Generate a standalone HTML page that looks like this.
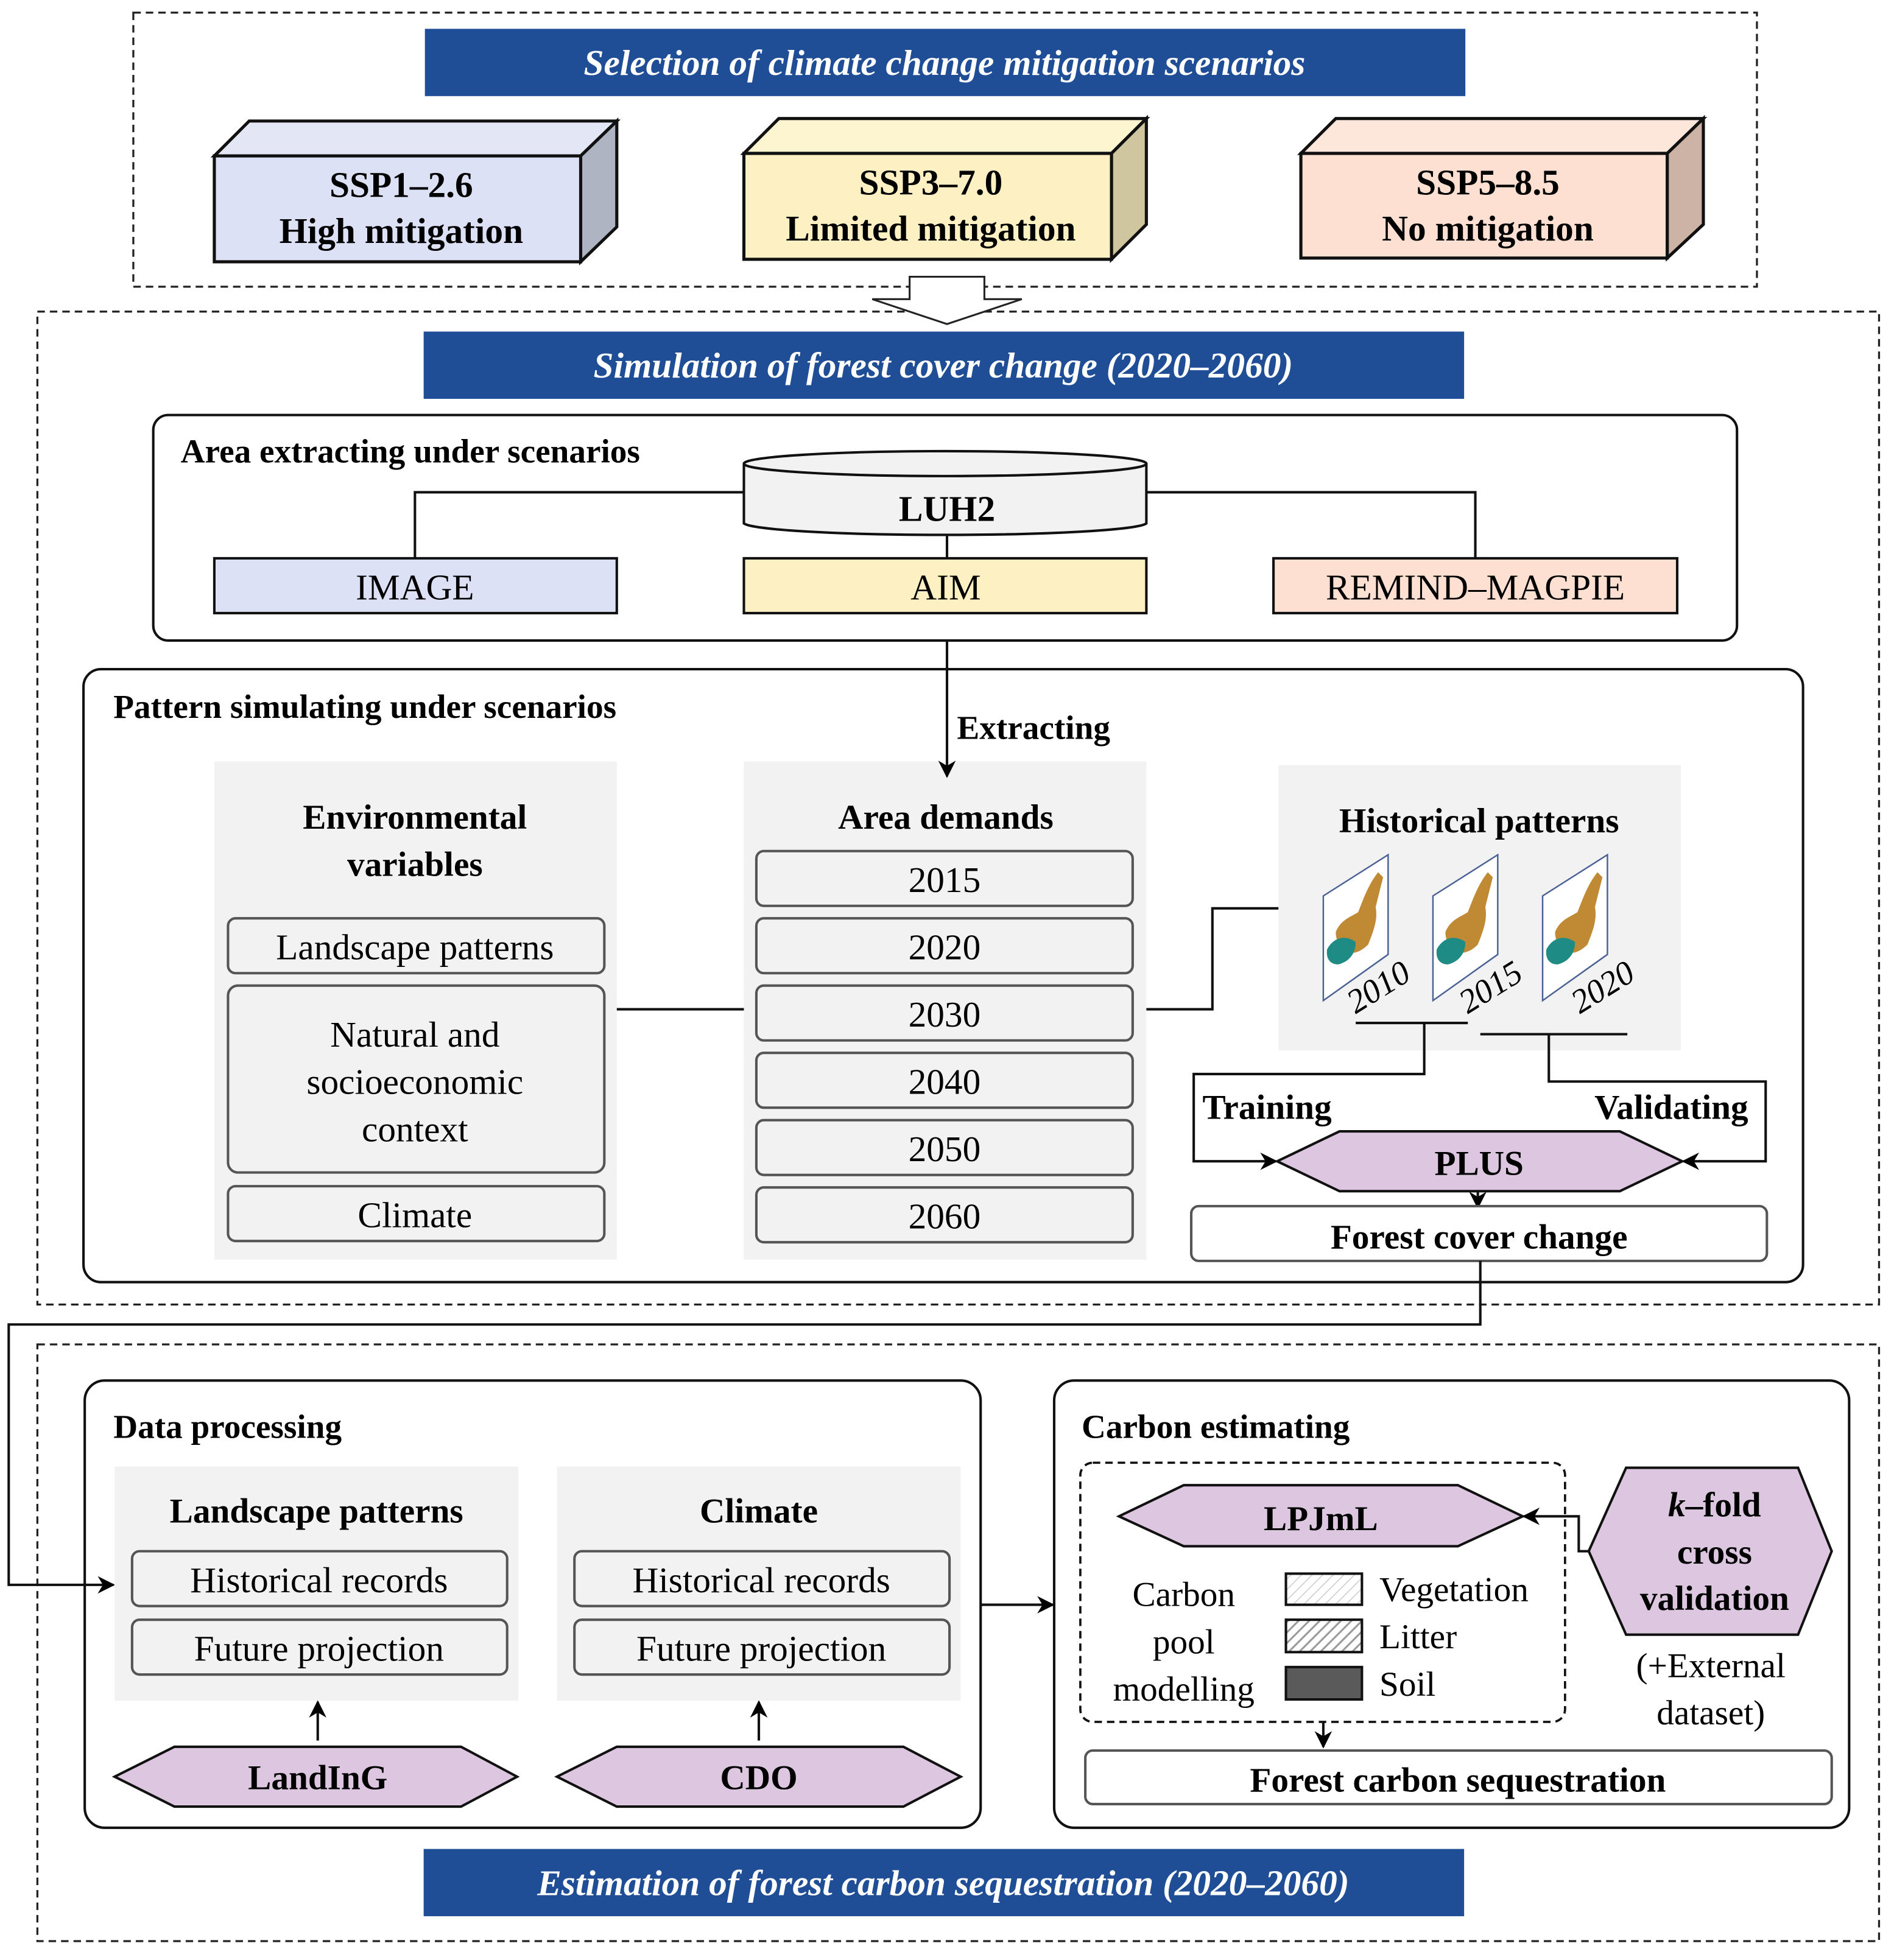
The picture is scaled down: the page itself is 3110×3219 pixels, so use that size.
<!DOCTYPE html>
<html><head><meta charset="utf-8"><style>html,body{margin:0;padding:0;background:#fff}svg{display:block;font-family:"Liberation Serif","Times New Roman",serif}</style></head><body>
<svg xmlns="http://www.w3.org/2000/svg" width="3110" height="3219" viewBox="0 0 1520 1573">
<defs>
<marker id="ar" viewBox="0 0 10 10" refX="9" refY="5" markerWidth="14" markerHeight="14" markerUnits="userSpaceOnUse" orient="auto"><path d="M0,0 L10,5 L0,10 L3,5 z" fill="#000"/></marker>
<pattern id="hv" width="6" height="6" patternUnits="userSpaceOnUse" patternTransform="rotate(45)"><rect width="6" height="6" fill="#fff"/><line x1="0" y1="0" x2="0" y2="6" stroke="#ccc" stroke-width="1.5"/></pattern>
<pattern id="hl" width="6" height="6" patternUnits="userSpaceOnUse" patternTransform="rotate(45)"><rect width="6" height="6" fill="#fff"/><line x1="0" y1="0" x2="0" y2="6" stroke="#999" stroke-width="3"/></pattern>
<g id="map">
<path d="M0,33 L52,0 L52,80 L0,117 z" fill="#fff" stroke="#4a6196" stroke-width="1.2"/>
<path d="M10,62 C14,52 22,50 28,46 C32,36 36,24 44,14 L48,18 C46,26 44,34 42,42 C44,52 40,62 36,72 C30,78 24,80 18,78 C14,74 10,70 10,62 z" fill="#c08a35"/>
<path d="M3,76 C8,66 18,64 26,70 C26,80 20,86 12,88 C6,88 2,84 3,76 z" fill="#1e8b84"/>
</g>
</defs>
<rect width="1520" height="1573" fill="#fff"/>
<g fill="none" stroke="#222" stroke-width="1.6" stroke-dasharray="6,4">
<rect x="107" y="10" width="1303" height="220"/>
<rect x="30" y="250" width="1478" height="797"/>
<rect x="30" y="1079" width="1478" height="479"/>
</g>
<g fill="#1f4e96"><rect x="341" y="23" width="835" height="54"/><rect x="340" y="266" width="835" height="54"/><rect x="340" y="1484" width="835" height="54"/></g>
<g fill="#fff" font-weight="bold" font-style="italic" font-size="29" text-anchor="middle">
<text x="758" y="60">Selection of climate change mitigation scenarios</text>
<text x="757" y="303">Simulation of forest cover change (2020–2060)</text>
<text x="757" y="1521">Estimation of forest carbon sequestration (2020–2060)</text>
</g>
<g stroke="#111" stroke-width="2.5">
<path d="M172,125 L200,97 L495,97 L466,125 z" fill="#e2e6f5"/><path d="M466,125 L495,97 L495,182 L466,210 z" fill="#aeb4c2"/><rect x="172" y="125" width="294" height="85" fill="#dce1f5"/>
<path d="M597,123 L625,95 L920,95 L892,123 z" fill="#fdf4d0"/><path d="M892,123 L920,95 L920,180 L892,208 z" fill="#cfc6a0"/><rect x="597" y="123" width="295" height="85" fill="#fdf1c4"/>
<path d="M1044,123 L1072,95 L1367,95 L1338,123 z" fill="#fde6da"/><path d="M1338,123 L1367,95 L1367,180 L1338,207 z" fill="#cdb2a6"/><rect x="1044" y="123" width="294" height="84" fill="#fde0d2"/>
</g>
<g font-weight="bold" font-size="29" text-anchor="middle">
<text x="322" y="158">SSP1–2.6</text><text x="322" y="195">High mitigation</text>
<text x="747" y="156">SSP3–7.0</text><text x="747" y="193">Limited mitigation</text>
<text x="1194" y="156">SSP5–8.5</text><text x="1194" y="193">No mitigation</text>
</g>
<path d="M730,222 L790,222 L790,240 L820,240 L760,260 L700,240 L730,240 z" fill="#fff" stroke="#222" stroke-width="1.5"/>
<rect x="123" y="333" width="1271" height="181" rx="12" fill="none" stroke="#111" stroke-width="2"/>
<text x="145" y="371" font-weight="bold" font-size="27">Area extracting under scenarios</text>
<g stroke="#111" stroke-width="2" fill="none">
<path d="M597,395 L333,395 L333,448"/><path d="M920,395 L1184,395 L1184,448"/><path d="M760,428 L760,448"/>
</g>
<path d="M597,372 L597,420 A162,10 0 0 0 920,420 L920,372" fill="#f2f2f2" stroke="#111" stroke-width="2"/>
<ellipse cx="758.5" cy="372" rx="161.5" ry="10" fill="#f2f2f2" stroke="#111" stroke-width="2"/>
<text x="760" y="418" font-weight="bold" font-size="29" text-anchor="middle">LUH2</text>
<rect x="172" y="448" width="323" height="44" fill="#dce1f5" stroke="#111" stroke-width="2"/>
<rect x="597" y="448" width="323" height="44" fill="#fdf1c4" stroke="#111" stroke-width="2"/>
<rect x="1022" y="448" width="324" height="44" fill="#fde0d2" stroke="#111" stroke-width="2"/>
<g font-size="29" text-anchor="middle"><text x="333" y="481">IMAGE</text><text x="759" y="481">AIM</text><text x="1184" y="481">REMIND–MAGPIE</text></g>
<rect x="67" y="537" width="1380" height="492" rx="14" fill="none" stroke="#111" stroke-width="2"/>
<text x="91" y="576" font-weight="bold" font-size="27">Pattern simulating under scenarios</text>
<rect x="172" y="611" width="323" height="400" fill="#f2f2f2"/>
<rect x="597" y="611" width="323" height="400" fill="#f2f2f2"/>
<rect x="1026" y="614" width="323" height="229" fill="#f2f2f2"/>
<line x1="760" y1="514" x2="760" y2="623" stroke="#111" stroke-width="2" marker-end="url(#ar)"/>
<text x="768" y="593" font-weight="bold" font-size="27">Extracting</text>
<g font-weight="bold" font-size="28" text-anchor="middle">
<text x="333" y="665">Environmental</text><text x="333" y="703">variables</text>
<text x="759" y="665">Area demands</text><text x="1187" y="668">Historical patterns</text>
</g>
<g fill="#f2f2f2" stroke="#555" stroke-width="2">
<rect x="183" y="737" width="302" height="44" rx="6"/><rect x="183" y="791" width="302" height="150" rx="8"/><rect x="183" y="952" width="302" height="44" rx="6"/>
<rect x="607" y="683" width="302" height="44" rx="6"/><rect x="607" y="737" width="302" height="44" rx="6"/><rect x="607" y="791" width="302" height="44" rx="6"/>
<rect x="607" y="845" width="302" height="44" rx="6"/><rect x="607" y="899" width="302" height="44" rx="6"/><rect x="607" y="953" width="302" height="44" rx="6"/>
</g>
<g font-size="29" text-anchor="middle">
<text x="333" y="770">Landscape patterns</text><text x="333" y="840">Natural and</text><text x="333" y="878">socioeconomic</text><text x="333" y="916">context</text><text x="333" y="985">Climate</text>
<text x="758" y="716">2015</text><text x="758" y="770">2020</text><text x="758" y="824">2030</text><text x="758" y="878">2040</text><text x="758" y="932">2050</text><text x="758" y="986">2060</text>
</g>
<g stroke="#111" stroke-width="2" fill="none">
<path d="M495,810 L597,810"/><path d="M920,810 L973,810 L973,729 L1026,729"/>
<path d="M1088,821 L1178,821"/><path d="M1188,830 L1306,830"/>
</g>
<use href="#map" x="1062" y="686"/><use href="#map" x="1150" y="686"/><use href="#map" x="1238" y="686"/>
<g font-style="italic" font-size="27">
<text transform="translate(1088,814) rotate(-32)">2010</text>
<text transform="translate(1178,814) rotate(-32)">2015</text>
<text transform="translate(1268,814) rotate(-32)">2020</text>
</g>
<g stroke="#111" stroke-width="2" fill="none">
<path d="M1143,821 L1143,862 L958,862 L958,932 L1024,932" marker-end="url(#ar)"/>
<path d="M1243,830 L1243,868 L1417,868 L1417,932 L1351,932" marker-end="url(#ar)"/>
<path d="M1186,956 L1186,969" marker-end="url(#ar)"/>
</g>
<text x="965" y="898" font-weight="bold" font-size="28">Training</text>
<text x="1403" y="898" font-weight="bold" font-size="28" text-anchor="end">Validating</text>
<polygon points="1025,932 1075,908 1300,908 1350,932 1300,956 1075,956" fill="#dcc6e0" stroke="#111" stroke-width="2"/>
<text x="1187" y="943" font-weight="bold" font-size="28" text-anchor="middle">PLUS</text>
<rect x="956" y="968" width="462" height="44" rx="6" fill="#fff" stroke="#555" stroke-width="2"/>
<text x="1187" y="1002" font-weight="bold" font-size="28" text-anchor="middle">Forest cover change</text>
<path d="M1188,1012 L1188,1063 L7,1063 L7,1272 L91,1272" fill="none" stroke="#111" stroke-width="2" marker-end="url(#ar)"/>
<rect x="68" y="1108" width="719" height="359" rx="16" fill="none" stroke="#111" stroke-width="2"/>
<text x="91" y="1154" font-weight="bold" font-size="27">Data processing</text>
<rect x="92" y="1177" width="324" height="188" fill="#f2f2f2"/><rect x="447" y="1177" width="324" height="188" fill="#f2f2f2"/>
<g font-weight="bold" font-size="28" text-anchor="middle"><text x="254" y="1222">Landscape patterns</text><text x="609" y="1222">Climate</text></g>
<g fill="#f2f2f2" stroke="#555" stroke-width="2">
<rect x="106" y="1245" width="301" height="44" rx="6"/><rect x="106" y="1300" width="301" height="44" rx="6"/>
<rect x="461" y="1245" width="301" height="44" rx="6"/><rect x="461" y="1300" width="301" height="44" rx="6"/>
</g>
<g font-size="29" text-anchor="middle"><text x="256" y="1278">Historical records</text><text x="256" y="1333">Future projection</text><text x="611" y="1278">Historical records</text><text x="611" y="1333">Future projection</text></g>
<g stroke="#111" stroke-width="2"><line x1="255" y1="1397" x2="255" y2="1366" marker-end="url(#ar)"/><line x1="609" y1="1397" x2="609" y2="1366" marker-end="url(#ar)"/>
<line x1="787" y1="1288" x2="845" y2="1288" marker-end="url(#ar)"/></g>
<polygon points="92,1426 140,1402 370,1402 415,1426 370,1450 140,1450" fill="#dcc6e0" stroke="#111" stroke-width="2"/>
<polygon points="447,1426 495,1402 725,1402 771,1426 725,1450 495,1450" fill="#dcc6e0" stroke="#111" stroke-width="2"/>
<g font-weight="bold" font-size="28" text-anchor="middle"><text x="255" y="1436">LandInG</text><text x="609" y="1436">CDO</text></g>
<rect x="846" y="1108" width="638" height="359" rx="16" fill="none" stroke="#111" stroke-width="2"/>
<text x="868" y="1154" font-weight="bold" font-size="27">Carbon estimating</text>
<rect x="867" y="1174" width="389" height="208" rx="10" fill="none" stroke="#111" stroke-width="1.8" stroke-dasharray="6,4"/>
<polygon points="898,1217 950,1192 1170,1192 1222,1217 1170,1241 950,1241" fill="#dcc6e0" stroke="#111" stroke-width="2"/>
<text x="1060" y="1228" font-weight="bold" font-size="28" text-anchor="middle">LPJmL</text>
<polygon points="1275,1245 1305,1178 1443,1178 1470,1245 1443,1312 1305,1312" fill="#dcc6e0" stroke="#111" stroke-width="2"/>
<path d="M1275,1245 L1267,1245 L1267,1217 L1223,1217" fill="none" stroke="#111" stroke-width="2" marker-end="url(#ar)"/>
<g font-weight="bold" font-size="28" text-anchor="middle"><text x="1376" y="1217"><tspan font-style="italic">k</tspan>–fold</text><text x="1376" y="1255">cross</text><text x="1376" y="1292">validation</text></g>
<g font-size="28" text-anchor="middle"><text x="1373" y="1346">(+External</text><text x="1373" y="1384">dataset)</text>
<text x="950" y="1289">Carbon</text><text x="950" y="1327">pool</text><text x="950" y="1365">modelling</text></g>
<rect x="1032" y="1263" width="61" height="25" fill="url(#hv)" stroke="#111" stroke-width="2"/>
<rect x="1032" y="1300" width="61" height="26" fill="url(#hl)" stroke="#111" stroke-width="2"/>
<rect x="1032" y="1338" width="61" height="26" fill="#5a5a5a" stroke="#111" stroke-width="2"/>
<g font-size="28"><text x="1107" y="1285">Vegetation</text><text x="1107" y="1323">Litter</text><text x="1107" y="1361">Soil</text></g>
<line x1="1062" y1="1382" x2="1062" y2="1402" stroke="#111" stroke-width="2" marker-end="url(#ar)"/>
<rect x="871" y="1405" width="599" height="43" rx="6" fill="#fff" stroke="#555" stroke-width="2"/>
<text x="1170" y="1438" font-weight="bold" font-size="28" text-anchor="middle">Forest carbon sequestration</text>
</svg>
</body></html>
